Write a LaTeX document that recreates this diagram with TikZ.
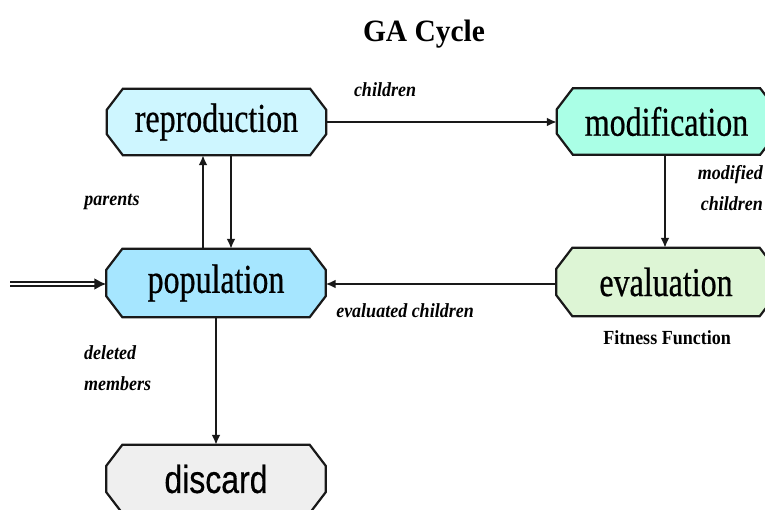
\documentclass[tikz,border=0pt]{standalone}
\usepackage{fontspec}
\setmainfont{Liberation Serif}
\newfontfamily\boxfont[FakeStretch=0.78,FakeBold=0.5]{Liberation Serif}
\newfontfamily\boxsans[FakeStretch=0.82,FakeBold=0.4]{Liberation Sans}
\newfontfamily\titlefont[FakeStretch=0.95]{Liberation Serif}
\newfontfamily\labfont[FakeStretch=0.9]{Liberation Serif}
\usetikzlibrary{arrows.meta,calc,backgrounds}
\definecolor{repfill}{RGB}{206,246,255}
\definecolor{modfill}{RGB}{170,255,230}
\definecolor{popfill}{RGB}{166,230,255}
\definecolor{evalfill}{RGB}{221,245,213}
\definecolor{disfill}{RGB}{239,239,239}
\definecolor{edge}{RGB}{25,25,25}
\tikzset{
  stagebox/.style={rectangle, draw=none, minimum width=219pt, minimum height=66pt, inner sep=0pt,
    font=\boxfont\fontsize{41}{41}\selectfont},
  octo/.style={draw=edge, line width=2.2pt, line join=miter},
  flow/.style={draw=edge, line width=2.2pt, -{Latex[length=10pt,width=9pt]}},
  lab/.style={font=\labfont\bfseries\itshape\fontsize{20}{20}\selectfont, inner sep=0pt}
}
\newcommand\octshape[2]{%
  \begin{pgfonlayer}{background}
  \draw[octo, fill=#2] ($(#1.north west)+(16,0)$) -- ($(#1.north east)+(-16,0)$) --
    ($(#1.north east)+(0,21)$) -- ($(#1.south east)+(0,-21)$) --
    ($(#1.south east)+(-16,0)$) -- ($(#1.south west)+(16,0)$) --
    ($(#1.south west)+(0,-21)$) -- ($(#1.north west)+(0,21)$) -- cycle;
  \end{pgfonlayer}}
\begin{document}
\begin{tikzpicture}[x=1pt,y=-1pt]
\useasboundingbox (0,0) rectangle (765,510);
\node[font=\titlefont\bfseries\fontsize{31}{31}\selectfont] (title) at (424,34) {GA Cycle};
\node[stagebox] (rep) at (216.5,122) {reproduction};
\node[stagebox] (mod) at (666.5,121.5) {modification};
\node[stagebox, minimum height=68pt] (pop) at (216,283) {population};
\node[stagebox, minimum height=68pt] (eval) at (666,282) {evaluation};
\node[stagebox, minimum height=68pt, font=\boxsans\fontsize{39}{39}\selectfont] (dis) at (216,479) {discard};
\octshape{rep}{repfill}
\octshape{mod}{modfill}
\octshape{pop}{popfill}
\octshape{eval}{evalfill}
\octshape{dis}{disfill}
\node[font=\labfont\bfseries\fontsize{20}{20}\selectfont] (fit) at (667,338) {Fitness Function};
\coordinate (in) at (10,284);
\draw[flow] (rep.east |- 0,122) -- (mod.west |- 0,122);
\draw[flow] (mod.south -| 665,0) -- (eval.north -| 665,0);
\draw[flow] (eval.west |- 0,284) -- (pop.east |- 0,284);
\draw[flow] (pop.north -| 203,0) -- (rep.south -| 203,0);
\draw[flow] (rep.south -| 231,0) -- (pop.north -| 231,0);
\draw[flow] (pop.south -| 216,0) -- (dis.north -| 216,0);
\draw[draw=edge, double, double distance=2.2pt, line width=2.2pt, -{Latex[length=12pt,width=12pt]}] (in) -- (pop.west |- in);
\node[lab] (lchild) at (385,90) {children};
\node[lab, anchor=east] (lmod1) at (763,175) {modified};
\node[lab, anchor=east] (lmod2) at (763,204) {children};
\node[lab] (leval) at (405,311) {evaluated children};
\node[lab] (lpar) at (112,202) {parents};
\node[lab, anchor=west] (ldel1) at (84,353) {deleted};
\node[lab, anchor=west] (ldel2) at (84,384) {members};
\end{tikzpicture}
\end{document}
